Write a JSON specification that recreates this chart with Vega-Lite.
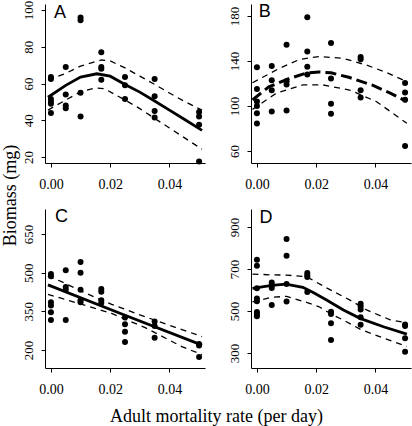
{
  "$schema": "https://vega.github.io/schema/vega-lite/v6.json",
  "autosize": {"type": "none"},
  "padding": {"left": 45, "top": 4, "right": 367, "bottom": 422},
  "background": "white",
  "config": {
    "view": {"stroke": null},
    "font": "Liberation Serif",
    "axis": {"grid": false, "domainColor": "black", "domainWidth": 1, "tickColor": "black", "tickWidth": 1, "tickSize": 4, "labelColor": "black", "labelFont": "Liberation Serif", "titleFont": "Liberation Serif", "titleFontWeight": "normal", "titleColor": "black", "titleFontSize": 18, "labelOverlap": false, "labelFlush": false},
    "axisY": {"labelOverlap": false},
    "text": {"font": "Liberation Sans", "fontSize": 18, "color": "black", "align": "center", "baseline": "alphabetic"}
  },
  "datasets": {
    "pts": [
      {"panel": "A", "x": 0, "y": 63.5}, {"panel": "A", "x": 0, "y": 62.5}, {"panel": "A", "x": 0, "y": 51.5}, {"panel": "A", "x": 0, "y": 50}, {"panel": "A", "x": 0, "y": 49}, {"panel": "A", "x": 0, "y": 44},
      {"panel": "A", "x": 0.005, "y": 69}, {"panel": "A", "x": 0.005, "y": 54}, {"panel": "A", "x": 0.005, "y": 48}, {"panel": "A", "x": 0.005, "y": 46.5},
      {"panel": "A", "x": 0.01, "y": 96}, {"panel": "A", "x": 0.01, "y": 94.5}, {"panel": "A", "x": 0.01, "y": 55}, {"panel": "A", "x": 0.01, "y": 42},
      {"panel": "A", "x": 0.017, "y": 77}, {"panel": "A", "x": 0.017, "y": 69}, {"panel": "A", "x": 0.017, "y": 68}, {"panel": "A", "x": 0.017, "y": 62},
      {"panel": "A", "x": 0.025, "y": 63.5}, {"panel": "A", "x": 0.025, "y": 59}, {"panel": "A", "x": 0.025, "y": 51.5},
      {"panel": "A", "x": 0.035, "y": 62.5}, {"panel": "A", "x": 0.035, "y": 53}, {"panel": "A", "x": 0.035, "y": 45}, {"panel": "A", "x": 0.035, "y": 41.5},
      {"panel": "A", "x": 0.05, "y": 44.5}, {"panel": "A", "x": 0.05, "y": 42}, {"panel": "A", "x": 0.05, "y": 37.5}, {"panel": "A", "x": 0.05, "y": 17.5},

      {"panel": "B", "x": 0, "y": 134.5}, {"panel": "B", "x": 0, "y": 115}, {"panel": "B", "x": 0, "y": 104}, {"panel": "B", "x": 0, "y": 100}, {"panel": "B", "x": 0, "y": 93.5}, {"panel": "B", "x": 0, "y": 84.5},
      {"panel": "B", "x": 0.005, "y": 135.5}, {"panel": "B", "x": 0.005, "y": 123}, {"panel": "B", "x": 0.005, "y": 114}, {"panel": "B", "x": 0.005, "y": 95},
      {"panel": "B", "x": 0.01, "y": 154.5}, {"panel": "B", "x": 0.01, "y": 122}, {"panel": "B", "x": 0.01, "y": 119}, {"panel": "B", "x": 0.01, "y": 96},
      {"panel": "B", "x": 0.017, "y": 179}, {"panel": "B", "x": 0.017, "y": 148.5}, {"panel": "B", "x": 0.017, "y": 135}, {"panel": "B", "x": 0.017, "y": 128},
      {"panel": "B", "x": 0.025, "y": 156}, {"panel": "B", "x": 0.025, "y": 124.5}, {"panel": "B", "x": 0.025, "y": 102}, {"panel": "B", "x": 0.025, "y": 93},
      {"panel": "B", "x": 0.035, "y": 143.5}, {"panel": "B", "x": 0.035, "y": 141.5}, {"panel": "B", "x": 0.035, "y": 114}, {"panel": "B", "x": 0.035, "y": 107.5},
      {"panel": "B", "x": 0.05, "y": 120.5}, {"panel": "B", "x": 0.05, "y": 112}, {"panel": "B", "x": 0.05, "y": 105.5}, {"panel": "B", "x": 0.05, "y": 64.5},

      {"panel": "C", "x": 0, "y": 495}, {"panel": "C", "x": 0, "y": 486}, {"panel": "C", "x": 0, "y": 385}, {"panel": "C", "x": 0, "y": 373}, {"panel": "C", "x": 0, "y": 346}, {"panel": "C", "x": 0, "y": 316},
      {"panel": "C", "x": 0.005, "y": 509}, {"panel": "C", "x": 0.005, "y": 444}, {"panel": "C", "x": 0.005, "y": 434}, {"panel": "C", "x": 0.005, "y": 316},
      {"panel": "C", "x": 0.01, "y": 541}, {"panel": "C", "x": 0.01, "y": 500}, {"panel": "C", "x": 0.01, "y": 434}, {"panel": "C", "x": 0.01, "y": 393}, {"panel": "C", "x": 0.01, "y": 385},
      {"panel": "C", "x": 0.017, "y": 437}, {"panel": "C", "x": 0.017, "y": 426}, {"panel": "C", "x": 0.017, "y": 393}, {"panel": "C", "x": 0.017, "y": 382},
      {"panel": "C", "x": 0.025, "y": 326}, {"panel": "C", "x": 0.025, "y": 300}, {"panel": "C", "x": 0.025, "y": 271}, {"panel": "C", "x": 0.025, "y": 231},
      {"panel": "C", "x": 0.035, "y": 311}, {"panel": "C", "x": 0.035, "y": 293}, {"panel": "C", "x": 0.035, "y": 248},
      {"panel": "C", "x": 0.05, "y": 223}, {"panel": "C", "x": 0.05, "y": 217}, {"panel": "C", "x": 0.05, "y": 173},

      {"panel": "D", "x": 0, "y": 744}, {"panel": "D", "x": 0, "y": 716}, {"panel": "D", "x": 0, "y": 608}, {"panel": "D", "x": 0, "y": 560}, {"panel": "D", "x": 0, "y": 546}, {"panel": "D", "x": 0, "y": 495}, {"panel": "D", "x": 0, "y": 486}, {"panel": "D", "x": 0, "y": 475},
      {"panel": "D", "x": 0.005, "y": 636}, {"panel": "D", "x": 0.005, "y": 622}, {"panel": "D", "x": 0.005, "y": 609}, {"panel": "D", "x": 0.005, "y": 529},
      {"panel": "D", "x": 0.01, "y": 843}, {"panel": "D", "x": 0.01, "y": 763}, {"panel": "D", "x": 0.01, "y": 629}, {"panel": "D", "x": 0.01, "y": 545},
      {"panel": "D", "x": 0.017, "y": 681}, {"panel": "D", "x": 0.017, "y": 670}, {"panel": "D", "x": 0.017, "y": 662}, {"panel": "D", "x": 0.017, "y": 591},
      {"panel": "D", "x": 0.025, "y": 496}, {"panel": "D", "x": 0.025, "y": 486}, {"panel": "D", "x": 0.025, "y": 442}, {"panel": "D", "x": 0.025, "y": 362},
      {"panel": "D", "x": 0.035, "y": 534}, {"panel": "D", "x": 0.035, "y": 521}, {"panel": "D", "x": 0.035, "y": 507}, {"panel": "D", "x": 0.035, "y": 470}, {"panel": "D", "x": 0.035, "y": 435},
      {"panel": "D", "x": 0.05, "y": 436}, {"panel": "D", "x": 0.05, "y": 428}, {"panel": "D", "x": 0.05, "y": 370}, {"panel": "D", "x": 0.05, "y": 306}
    ],
    "curves": [
      {"panel": "A", "band": "fit", "x": -0.001, "y": 52.5}, {"panel": "A", "band": "fit", "x": 0.005, "y": 59}, {"panel": "A", "band": "fit", "x": 0.01, "y": 63.5}, {"panel": "A", "band": "fit", "x": 0.0155, "y": 65.3}, {"panel": "A", "band": "fit", "x": 0.02, "y": 64}, {"panel": "A", "band": "fit", "x": 0.025, "y": 59.5}, {"panel": "A", "band": "fit", "x": 0.03, "y": 55.3}, {"panel": "A", "band": "fit", "x": 0.035, "y": 50.5}, {"panel": "A", "band": "fit", "x": 0.04, "y": 45.5}, {"panel": "A", "band": "fit", "x": 0.045, "y": 40.5}, {"panel": "A", "band": "fit", "x": 0.051, "y": 34.5},
      {"panel": "A", "band": "upper", "x": -0.001, "y": 62}, {"panel": "A", "band": "upper", "x": 0.005, "y": 65.5}, {"panel": "A", "band": "upper", "x": 0.01, "y": 69.5}, {"panel": "A", "band": "upper", "x": 0.017, "y": 72.8}, {"panel": "A", "band": "upper", "x": 0.02, "y": 72.3}, {"panel": "A", "band": "upper", "x": 0.025, "y": 68.5}, {"panel": "A", "band": "upper", "x": 0.03, "y": 64}, {"panel": "A", "band": "upper", "x": 0.035, "y": 59.5}, {"panel": "A", "band": "upper", "x": 0.04, "y": 54.8}, {"panel": "A", "band": "upper", "x": 0.045, "y": 50.3}, {"panel": "A", "band": "upper", "x": 0.051, "y": 45.5},
      {"panel": "A", "band": "lower", "x": -0.001, "y": 45.5}, {"panel": "A", "band": "lower", "x": 0.005, "y": 51}, {"panel": "A", "band": "lower", "x": 0.01, "y": 55.5}, {"panel": "A", "band": "lower", "x": 0.015, "y": 57.6}, {"panel": "A", "band": "lower", "x": 0.018, "y": 57.2}, {"panel": "A", "band": "lower", "x": 0.025, "y": 51}, {"panel": "A", "band": "lower", "x": 0.03, "y": 46.3}, {"panel": "A", "band": "lower", "x": 0.035, "y": 41}, {"panel": "A", "band": "lower", "x": 0.04, "y": 35.8}, {"panel": "A", "band": "lower", "x": 0.045, "y": 30.5}, {"panel": "A", "band": "lower", "x": 0.051, "y": 24.2},

      {"panel": "B", "band": "fit", "x": -0.0015, "y": 105.5}, {"panel": "B", "band": "fit", "x": 0.004, "y": 117}, {"panel": "B", "band": "fit", "x": 0.011, "y": 124.5}, {"panel": "B", "band": "fit", "x": 0.017, "y": 129.5}, {"panel": "B", "band": "fit", "x": 0.021, "y": 130.3}, {"panel": "B", "band": "fit", "x": 0.025, "y": 129.5}, {"panel": "B", "band": "fit", "x": 0.031, "y": 125.5}, {"panel": "B", "band": "fit", "x": 0.039, "y": 118.5}, {"panel": "B", "band": "fit", "x": 0.045, "y": 111.5}, {"panel": "B", "band": "fit", "x": 0.0506, "y": 104},
      {"panel": "B", "band": "upper", "x": -0.0015, "y": 120.7}, {"panel": "B", "band": "upper", "x": 0.0076, "y": 133.5}, {"panel": "B", "band": "upper", "x": 0.0145, "y": 141.5}, {"panel": "B", "band": "upper", "x": 0.021, "y": 144}, {"panel": "B", "band": "upper", "x": 0.029, "y": 142.4}, {"panel": "B", "band": "upper", "x": 0.037, "y": 136.4}, {"panel": "B", "band": "upper", "x": 0.044, "y": 129.5}, {"panel": "B", "band": "upper", "x": 0.0506, "y": 121.5},
      {"panel": "B", "band": "lower", "x": -0.0015, "y": 97}, {"panel": "B", "band": "lower", "x": 0.0065, "y": 111.3}, {"panel": "B", "band": "lower", "x": 0.0155, "y": 118.7}, {"panel": "B", "band": "lower", "x": 0.0223, "y": 118.7}, {"panel": "B", "band": "lower", "x": 0.0313, "y": 114.2}, {"panel": "B", "band": "lower", "x": 0.0404, "y": 103.8}, {"panel": "B", "band": "lower", "x": 0.0506, "y": 84.6},

      {"panel": "C", "band": "fit", "x": -0.001, "y": 452.5}, {"panel": "C", "band": "fit", "x": 0.025, "y": 335}, {"panel": "C", "band": "fit", "x": 0.051, "y": 219},
      {"panel": "C", "band": "upper", "x": -0.001, "y": 487}, {"panel": "C", "band": "upper", "x": 0.0036, "y": 465}, {"panel": "C", "band": "upper", "x": 0.012, "y": 419}, {"panel": "C", "band": "upper", "x": 0.0205, "y": 377}, {"panel": "C", "band": "upper", "x": 0.0318, "y": 329}, {"panel": "C", "band": "upper", "x": 0.042, "y": 288}, {"panel": "C", "band": "upper", "x": 0.051, "y": 252},
      {"panel": "C", "band": "lower", "x": -0.001, "y": 416}, {"panel": "C", "band": "lower", "x": 0.0093, "y": 381}, {"panel": "C", "band": "lower", "x": 0.0205, "y": 342}, {"panel": "C", "band": "lower", "x": 0.0318, "y": 287}, {"panel": "C", "band": "lower", "x": 0.0442, "y": 213}, {"panel": "C", "band": "lower", "x": 0.051, "y": 182},

      {"panel": "D", "band": "fit", "x": -0.0015, "y": 608}, {"panel": "D", "band": "fit", "x": 0.005, "y": 622}, {"panel": "D", "band": "fit", "x": 0.0098, "y": 628}, {"panel": "D", "band": "fit", "x": 0.0155, "y": 613}, {"panel": "D", "band": "fit", "x": 0.019, "y": 588}, {"panel": "D", "band": "fit", "x": 0.0235, "y": 552}, {"panel": "D", "band": "fit", "x": 0.0292, "y": 505}, {"panel": "D", "band": "fit", "x": 0.0348, "y": 465}, {"panel": "D", "band": "fit", "x": 0.0427, "y": 425}, {"panel": "D", "band": "fit", "x": 0.0506, "y": 390},
      {"panel": "D", "band": "upper", "x": -0.0015, "y": 676}, {"panel": "D", "band": "upper", "x": 0.005, "y": 672}, {"panel": "D", "band": "upper", "x": 0.01, "y": 671}, {"panel": "D", "band": "upper", "x": 0.0168, "y": 663}, {"panel": "D", "band": "upper", "x": 0.0235, "y": 610}, {"panel": "D", "band": "upper", "x": 0.0314, "y": 552}, {"panel": "D", "band": "upper", "x": 0.037, "y": 505}, {"panel": "D", "band": "upper", "x": 0.045, "y": 458}, {"panel": "D", "band": "upper", "x": 0.0506, "y": 444},
      {"panel": "D", "band": "lower", "x": -0.0015, "y": 544}, {"panel": "D", "band": "lower", "x": 0.005, "y": 565}, {"panel": "D", "band": "lower", "x": 0.01, "y": 570}, {"panel": "D", "band": "lower", "x": 0.017, "y": 540}, {"panel": "D", "band": "lower", "x": 0.021, "y": 520}, {"panel": "D", "band": "lower", "x": 0.025, "y": 486}, {"panel": "D", "band": "lower", "x": 0.029, "y": 458}, {"panel": "D", "band": "lower", "x": 0.035, "y": 412}, {"panel": "D", "band": "lower", "x": 0.0427, "y": 371}, {"panel": "D", "band": "lower", "x": 0.0506, "y": 331}
    ]
  },
  "columns": 2,
  "spacing": 46,
  "bounds": "flush",
  "concat": [
    {
      "width": 160, "height": 159,
      "layer": [
        {
          "encoding": {
            "x": {"field": "x", "type": "quantitative", "scale": {"domain": [-0.002, 0.052], "nice": false, "zero": false},
                  "axis": {"title": null, "values": [0, 0.01, 0.02, 0.03, 0.04, 0.05], "labelExpr": "round(datum.value*100) % 2 == 0 && datum.value < 0.045 ? format(datum.value, '.2f') : ''", "labelFlush": false, "labelOverlap": false, "labelBaseline": "alphabetic", "labelPadding": 21.5, "labelFontSize": 14}},
            "y": {"field": "y", "type": "quantitative", "scale": {"domain": [16.7, 103.3], "nice": false, "zero": false},
                  "axis": {"values": [20, 40, 60, 80, 100], "labelAngle": 270, "labelAlign": "center", "labelBaseline": "alphabetic", "labelPadding": 8.4, "labelFontSize": 13, "labelFlush": false, "labelOverlap": false,
                           "title": "Biomass (mg)", "titleX": -30, "titleY": 191, "titleAngle": 270, "titleAlign": "center", "titleBaseline": "alphabetic"}}
          },
          "layer": [
            {"data": {"name": "pts"}, "transform": [{"filter": "datum.panel == 'A'"}], "mark": {"type": "circle", "size": 36, "opacity": 1, "color": "black"}},
            {"data": {"name": "curves"}, "transform": [{"filter": "datum.panel == 'A' && datum.band == 'fit'"}], "mark": {"type": "line", "color": "black", "strokeWidth": 2.8}},
            {"data": {"name": "curves"}, "transform": [{"filter": "datum.panel == 'A' && datum.band != 'fit'"}], "mark": {"type": "line", "color": "black", "strokeWidth": 1.3, "strokeDash": [6, 5]}, "encoding": {"detail": {"field": "band"}}}
          ]
        },
        {"data": {"values": [{"label": "A"}]}, "mark": {"type": "text"}, "encoding": {"x": {"datum": 0.0031}, "y": {"datum": 95.7,
          "axis": {"values": [20, 40, 60, 80, 100], "labelAngle": 270, "labelAlign": "center", "labelBaseline": "alphabetic", "labelPadding": 8.4, "labelFontSize": 13, "labelFlush": false, "labelOverlap": false,
                   "title": "Biomass (mg)", "titleX": -30, "titleY": 191, "titleAngle": 270, "titleAlign": "center", "titleBaseline": "alphabetic"}}, "text": {"field": "label"}}}
      ]
    },
    {
      "width": 160, "height": 159,
      "layer": [
        {
          "encoding": {
            "x": {"field": "x", "type": "quantitative", "scale": {"domain": [-0.002, 0.052], "nice": false, "zero": false},
                  "axis": {"title": null, "values": [0, 0.01, 0.02, 0.03, 0.04, 0.05], "labelExpr": "round(datum.value*100) % 2 == 0 && datum.value < 0.045 ? format(datum.value, '.2f') : ''", "labelFlush": false, "labelOverlap": false, "labelBaseline": "alphabetic", "labelPadding": 21.5, "labelFontSize": 14}},
            "y": {"field": "y", "type": "quantitative", "scale": {"domain": [49.3, 190.7], "nice": false, "zero": false},
                  "axis": {"title": null, "values": [60, 100, 140, 180], "labelAngle": 270, "labelAlign": "center", "labelBaseline": "alphabetic", "labelPadding": 8.4, "labelFontSize": 13, "labelFlush": false, "labelOverlap": false}}
          },
          "layer": [
            {"data": {"name": "pts"}, "transform": [{"filter": "datum.panel == 'B'"}], "mark": {"type": "circle", "size": 36, "opacity": 1, "color": "black"}},
            {"data": {"name": "curves"}, "transform": [{"filter": "datum.panel == 'B' && datum.band == 'fit'"}], "mark": {"type": "line", "color": "black", "strokeWidth": 3, "strokeDash": [11, 5]}},
            {"data": {"name": "curves"}, "transform": [{"filter": "datum.panel == 'B' && datum.band != 'fit'"}], "mark": {"type": "line", "color": "black", "strokeWidth": 1.3, "strokeDash": [6, 5]}, "encoding": {"detail": {"field": "band"}}}
          ]
        },
        {"data": {"values": [{"label": "B"}]}, "mark": {"type": "text"}, "encoding": {"x": {"datum": 0.0026}, "y": {"datum": 178.9,
          "axis": {"title": null, "values": [60, 100, 140, 180], "labelAngle": 270, "labelAlign": "center", "labelBaseline": "alphabetic", "labelPadding": 8.4, "labelFontSize": 13, "labelFlush": false, "labelOverlap": false}}, "text": {"field": "label"}}}
      ]
    },
    {
      "width": 160, "height": 159,
      "layer": [
        {
          "encoding": {
            "x": {"field": "x", "type": "quantitative", "scale": {"domain": [-0.002, 0.052], "nice": false, "zero": false},
                  "axis": {"values": [0, 0.01, 0.02, 0.03, 0.04, 0.05], "labelExpr": "round(datum.value*100) % 2 == 0 && datum.value < 0.045 ? format(datum.value, '.2f') : ''", "labelFlush": false, "labelOverlap": false, "labelBaseline": "alphabetic", "labelPadding": 21.5, "labelFontSize": 14,
                           "title": "Adult mortality rate (per day)", "titleX": 171, "titleY": 53, "titleAlign": "center", "titleBaseline": "alphabetic"}},
            "y": {"field": "y", "type": "quantitative", "scale": {"domain": [130.2, 747], "nice": false, "zero": false},
                  "axis": {"title": null, "values": [200, 350, 500, 650], "labelAngle": 270, "labelAlign": "center", "labelBaseline": "alphabetic", "labelPadding": 8.4, "labelFontSize": 13, "labelFlush": false, "labelOverlap": false}}
          },
          "layer": [
            {"data": {"name": "pts"}, "transform": [{"filter": "datum.panel == 'C'"}], "mark": {"type": "circle", "size": 36, "opacity": 1, "color": "black"}},
            {"data": {"name": "curves"}, "transform": [{"filter": "datum.panel == 'C' && datum.band == 'fit'"}], "mark": {"type": "line", "color": "black", "strokeWidth": 2.8}},
            {"data": {"name": "curves"}, "transform": [{"filter": "datum.panel == 'C' && datum.band != 'fit'"}], "mark": {"type": "line", "color": "black", "strokeWidth": 1.3, "strokeDash": [6, 5]}, "encoding": {"detail": {"field": "band"}}}
          ]
        },
        {"data": {"values": [{"label": "C"}]}, "mark": {"type": "text"}, "encoding": {"x": {"datum": 0.0036}, "y": {"datum": 696.6,
          "axis": {"title": null, "values": [200, 350, 500, 650], "labelAngle": 270, "labelAlign": "center", "labelBaseline": "alphabetic", "labelPadding": 8.4, "labelFontSize": 13, "labelFlush": false, "labelOverlap": false}}, "text": {"field": "label"}}}
      ]
    },
    {
      "width": 160, "height": 159,
      "layer": [
        {
          "encoding": {
            "x": {"field": "x", "type": "quantitative", "scale": {"domain": [-0.002, 0.052], "nice": false, "zero": false},
                  "axis": {"title": null, "values": [0, 0.01, 0.02, 0.03, 0.04, 0.05], "labelExpr": "round(datum.value*100) % 2 == 0 && datum.value < 0.045 ? format(datum.value, '.2f') : ''", "labelFlush": false, "labelOverlap": false, "labelBaseline": "alphabetic", "labelPadding": 21.5, "labelFontSize": 14}},
            "y": {"field": "y", "type": "quantitative", "scale": {"domain": [228.6, 985.7], "nice": false, "zero": false},
                  "axis": {"title": null, "values": [300, 500, 700, 900], "labelAngle": 270, "labelAlign": "center", "labelBaseline": "alphabetic", "labelPadding": 8.4, "labelFontSize": 13, "labelFlush": false, "labelOverlap": false}}
          },
          "layer": [
            {"data": {"name": "pts"}, "transform": [{"filter": "datum.panel == 'D'"}], "mark": {"type": "circle", "size": 36, "opacity": 1, "color": "black"}},
            {"data": {"name": "curves"}, "transform": [{"filter": "datum.panel == 'D' && datum.band == 'fit'"}], "mark": {"type": "line", "color": "black", "strokeWidth": 2.8}},
            {"data": {"name": "curves"}, "transform": [{"filter": "datum.panel == 'D' && datum.band != 'fit'"}], "mark": {"type": "line", "color": "black", "strokeWidth": 1.3, "strokeDash": [6, 5]}, "encoding": {"detail": {"field": "band"}}}
          ]
        },
        {"data": {"values": [{"label": "D"}]}, "mark": {"type": "text"}, "encoding": {"x": {"datum": 0.0031}, "y": {"datum": 921.4,
          "axis": {"title": null, "values": [300, 500, 700, 900], "labelAngle": 270, "labelAlign": "center", "labelBaseline": "alphabetic", "labelPadding": 8.4, "labelFontSize": 13, "labelFlush": false, "labelOverlap": false}}, "text": {"field": "label"}}}
      ]
    }
  ]
}
